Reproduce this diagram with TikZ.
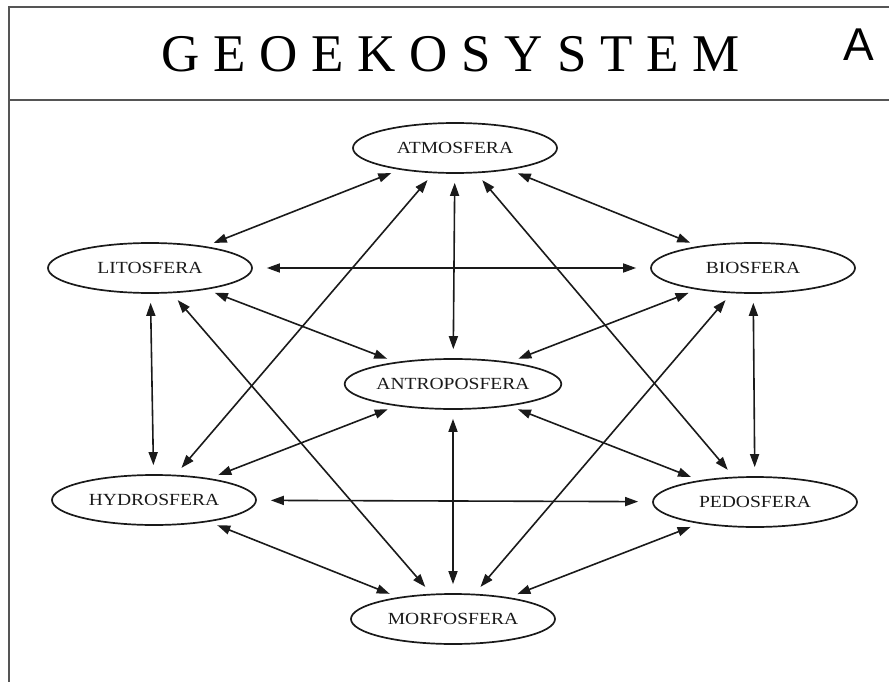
\documentclass[tikz,border=0pt]{standalone}
\usepackage{fontspec}
\setmainfont{Liberation Serif}
\newfontfamily\labfont[FakeStretch=1.15]{Liberation Serif}
\newfontfamily\titlefont[LetterSpace=26]{Liberation Serif}
\newfontfamily\sansfontA{Liberation Sans}
\usetikzlibrary{shapes.geometric,arrows.meta}
\definecolor{framegray}{HTML}{555555}
\definecolor{inkc}{HTML}{1A1A1A}
\tikzset{
  sphere/.style={ellipse, draw=inkc, line width=1.7pt, minimum width=204pt, minimum height=50pt, inner sep=0pt, text=inkc, font=\labfont\fontsize{17}{19}\selectfont},
  link/.style={{Triangle[length=13pt,width=9pt]}-{Triangle[length=13pt,width=9pt]}, draw=inkc, line width=1.6pt, shorten >=9pt, shorten <=9pt},
  hlink/.style={link, shorten >=14pt, shorten <=14pt},
  frameline/.style={draw=framegray, line width=2pt}
}
\begin{document}
\begin{tikzpicture}[x=1pt,y=-1pt]
\useasboundingbox (0,0) rectangle (889,682);
\coordinate (tl) at (9,7);
\coordinate (tr) at (889,7);
\coordinate (bl) at (9,682);
\coordinate (sl) at (9,100);
\coordinate (sr) at (889,100);
\draw[frameline] (tr) -- (tl) -- (bl);
\draw[frameline] (sl) -- (sr);
\node[anchor=base west, inner sep=0pt, text=black, font=\titlefont\fontsize{53}{56}\selectfont] (title) at (161,72) {GEOEKOSYSTEM};
\node[inner sep=0pt, text=black, font=\sansfontA\fontsize{46}{48}\selectfont] (letA) at (859,45) {A};

\node[sphere] (atm) at (455,148) {ATMOSFERA};
\node[sphere] (lit) at (150,268) {LITOSFERA};
\node[sphere] (bio) at (753,268) {BIOSFERA};
\node[sphere] (ant) at (453,384) {ANTROPOSFERA};
\node[sphere] (hyd) at (154,500) {HYDROSFERA};
\node[sphere] (ped) at (755,502) {PEDOSFERA};
\node[sphere] (mor) at (453,619) {MORFOSFERA};

\draw[link] (atm) -- (lit);
\draw[link] (atm) -- (bio);
\draw[link] (atm) -- (hyd);
\draw[link] (atm) -- (ant);
\draw[link] (atm) -- (ped);
\draw[hlink] (lit) -- (bio);
\draw[link] (lit) -- (ant);
\draw[link] (lit) -- (hyd);
\draw[link] (lit) -- (mor);
\draw[link] (bio) -- (ant);
\draw[link] (bio) -- (ped);
\draw[link] (bio) -- (mor);
\draw[link] (ant) -- (hyd);
\draw[link] (ant) -- (ped);
\draw[link] (ant) -- (mor);
\draw[hlink] (hyd) -- (ped);
\draw[link] (hyd) -- (mor);
\draw[link] (ped) -- (mor);
\end{tikzpicture}
\end{document}
